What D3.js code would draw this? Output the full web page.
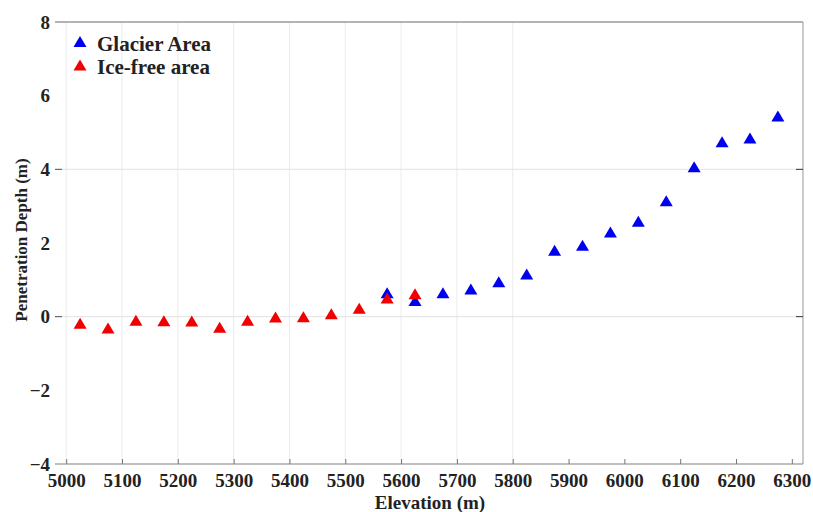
<!DOCTYPE html>
<html>
<head>
<meta charset="utf-8">
<script src="https://cdn.jsdelivr.net/npm/d3@7"></script>
<style>
  html, body { margin: 0; padding: 0; background: #fff; }
  svg text { font-family: "Liberation Serif", "Times New Roman", serif; font-weight: bold; fill: #222; }
</style>
</head>
<body>
<svg id="chart" width="813" height="512"></svg>
<script>
// Elevation bins (m) and mean penetration depth (m)
const glacierElev = [5575, 5625, 5675, 5725, 5775, 5825, 5875, 5925, 5975, 6025, 6075, 6125, 6175, 6225, 6275];
const glacierDepth = [0.65, 0.44, 0.65, 0.75, 0.95, 1.16, 1.80, 1.94, 2.30, 2.59, 3.15, 4.07, 4.75, 4.85, 5.45];
const iceFreeElev = [5025, 5075, 5125, 5175, 5225, 5275, 5325, 5375, 5425, 5475, 5525, 5575, 5625];
const iceFreeDepth = [-0.18, -0.31, -0.10, -0.11, -0.12, -0.29, -0.10, -0.01, 0.00, 0.08, 0.23, 0.51, 0.62];

const xTicks = [5000, 5100, 5200, 5300, 5400, 5500, 5600, 5700, 5800, 5900, 6000, 6100, 6200, 6300];
const yTicks = [-4, -2, 0, 2, 4, 6, 8];
const xGrid = [5000, 5100, 5200, 5300, 5400, 5500, 5600, 5700, 5800];
const yGrid = [0, 4];

const seriesNames = ["Glacier Area", "Ice-free area"];
const seriesColors = ["#0000f0", "#f00000"];

const svg = d3.select("#chart");
const plotLeft = 55, plotRight = 803, plotTop = 22, plotBottom = 464;

const x = d3.scaleLinear().domain([4980, 6320]).range([plotLeft, plotRight]);
const y = d3.scaleLinear().domain([-4, 8]).range([plotBottom, plotTop]);

// grid
svg.append("g").selectAll("line").data(xGrid).join("line")
  .attr("x1", d => x(d)).attr("x2", d => x(d))
  .attr("y1", plotTop).attr("y2", plotBottom)
  .attr("stroke", "#ebebeb").attr("stroke-width", 1);
svg.append("g").selectAll("line").data(yGrid).join("line")
  .attr("x1", plotLeft).attr("x2", plotRight)
  .attr("y1", d => y(d)).attr("y2", d => y(d))
  .attr("stroke", "#e2e2e2").attr("stroke-width", 1);

// frame
svg.append("line").attr("x1", plotLeft).attr("x2", plotRight).attr("y1", plotTop).attr("y2", plotTop)
  .attr("stroke", "#6a6a6a").attr("stroke-width", 1.2);
svg.append("line").attr("x1", plotRight).attr("x2", plotRight).attr("y1", plotTop).attr("y2", plotBottom)
  .attr("stroke", "#a8a8a8").attr("stroke-width", 1.2);
svg.append("line").attr("x1", plotLeft).attr("x2", plotRight).attr("y1", plotBottom).attr("y2", plotBottom)
  .attr("stroke", "#808080").attr("stroke-width", 1.2);

// x axis
const xAxis = d3.axisBottom(x).tickValues(xTicks).tickSize(-5).tickPadding(10).tickFormat(d3.format("d"));
const gx = svg.append("g").attr("transform", `translate(0,${plotBottom})`).call(xAxis);
gx.select(".domain").remove();
gx.selectAll(".tick line").attr("stroke", "#777");
gx.selectAll("text").style("font-size", "19px").attr("fill", "#222");

// y axis labels
const yAxis = d3.axisLeft(y).tickValues(yTicks).tickSize(0).tickPadding(0)
  .tickFormat(d => d < 0 ? "\u2212" + Math.abs(d) : d);
const gy = svg.append("g").attr("transform", `translate(50,0)`).call(yAxis);
gy.select(".domain").remove();
gy.selectAll("text").style("font-size", "19px").attr("fill", "#222");

// y tick marks inside both sides
svg.append("g").selectAll("line").data(yGrid).join("line")
  .attr("x1", plotLeft).attr("x2", plotLeft + 7)
  .attr("y1", d => y(d)).attr("y2", d => y(d)).attr("stroke", "#555");
svg.append("g").selectAll("line").data(yGrid).join("line")
  .attr("x1", plotRight - 7).attr("x2", plotRight)
  .attr("y1", d => y(d)).attr("y2", d => y(d)).attr("stroke", "#333");

// axis titles
svg.append("text").attr("x", 430).attr("y", 509).attr("text-anchor", "middle")
  .style("font-size", "19px").text("Elevation (m)");
svg.append("text").attr("transform", "translate(27,240) rotate(-90)").attr("text-anchor", "middle")
  .style("font-size", "17px").text("Penetration Depth (m)");

// markers
const tri = "M0,-5.5L6.5,5.5L-6.5,5.5Z";
const glacier = glacierElev.map((e, i) => ({ e, v: glacierDepth[i] }));
const iceFree = iceFreeElev.map((e, i) => ({ e, v: iceFreeDepth[i] }));

svg.append("g").selectAll("path").data(glacier).join("path")
  .attr("d", tri)
  .attr("transform", d => `translate(${x(d.e)},${y(d.v)})`)
  .attr("fill", seriesColors[0]);
svg.append("g").selectAll("path").data(iceFree).join("path")
  .attr("d", tri)
  .attr("transform", d => `translate(${x(d.e)},${y(d.v)})`)
  .attr("fill", seriesColors[1]);

// legend
const lg = svg.append("g");
seriesNames.forEach((name, i) => {
  const cy = 41.5 + i * 23.5;
  lg.append("path").attr("d", tri).attr("transform", `translate(80,${cy})`).attr("fill", seriesColors[i]);
  lg.append("text").attr("x", 97).attr("y", cy + 9).style("font-size", "21px").attr("fill", "#111").text(name);
});
</script>
</body>
</html>
